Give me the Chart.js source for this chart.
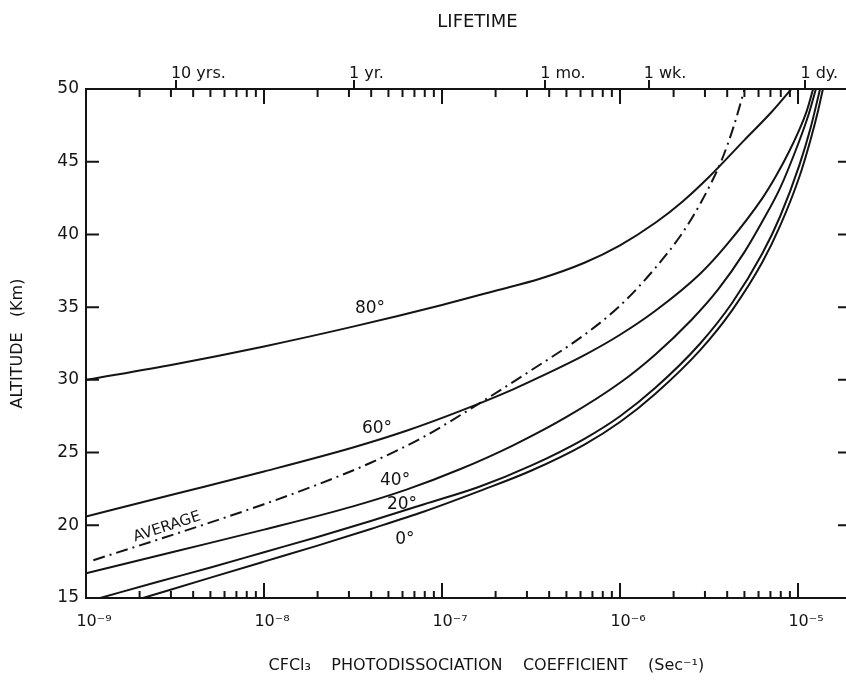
<!DOCTYPE html>
<html>
<head>
<meta charset="utf-8">
<script src="https://cdn.jsdelivr.net/npm/chart.js@4"></script>
<style>
  html, body { margin: 0; padding: 0; background: #fff; }
  #wrap { width: 846px; height: 683px; }
</style>
</head>
<body>
<div id="wrap"><canvas id="c" width="846" height="683"></canvas></div>
<script>
// ---------------- data ----------------
// photodissociation coefficient J (sec^-1) and altitude (km) for each curve
const lat80_J  = [1.0e-9, 3.16e-9, 1.0e-8, 3.16e-8, 1.0e-7, 2.0e-7, 3.55e-7, 6.31e-7, 1.0e-6, 1.58e-6, 2.24e-6, 3.16e-6, 5.01e-6, 7.08e-6, 9.33e-6];
const lat80_km = [30.0, 31.08, 32.3, 33.66, 35.15, 36.13, 36.95, 38.05, 39.25, 40.8, 42.25, 43.95, 46.5, 48.4, 50.1];

const avg_J  = [1.10e-9, 2.51e-9, 5.01e-9, 1.0e-8, 2.0e-8, 3.98e-8, 7.94e-8, 1.58e-7, 3.16e-7, 6.31e-7, 1.0e-6, 1.58e-6, 2.24e-6, 2.82e-6, 3.72e-6, 4.37e-6, 5.01e-6];
const avg_km = [17.6, 19.0, 20.2, 21.45, 22.8, 24.3, 26.1, 28.3, 30.65, 33.1, 35.1, 37.7, 40.1, 42.1, 45.1, 47.5, 50.0];

const lat60_J  = [1.0e-9, 3.16e-9, 1.0e-8, 3.16e-8, 6.31e-8, 1.26e-7, 2.51e-7, 3.55e-7, 6.31e-7, 1.0e-6, 1.58e-6, 2.82e-6, 3.98e-6, 6.31e-6, 7.59e-6, 8.91e-6, 1.0e-5, 1.12e-5, 1.216e-5];
const lat60_km = [20.6, 22.15, 23.7, 25.35, 26.5, 27.85, 29.35, 30.2, 31.7, 33.1, 34.75, 37.3, 39.3, 42.5, 44.1, 45.7, 47.0, 48.5, 50.0];

const lat40_J  = [1.0e-9, 3.16e-9, 1.0e-8, 3.16e-8, 6.31e-8, 1.26e-7, 2.51e-7, 5.01e-7, 1.0e-6, 1.58e-6, 2.51e-6, 3.55e-6, 5.01e-6, 6.31e-6, 7.94e-6, 1.0e-5, 1.15e-5, 1.28e-5];
const lat40_km = [16.7, 18.2, 19.7, 21.3, 22.45, 23.85, 25.5, 27.45, 29.8, 31.75, 34.1, 36.2, 38.8, 40.9, 43.2, 46.2, 48.3, 50.3];

const lat20_J  = [1.20e-9, 2.51e-9, 5.01e-9, 1.0e-8, 2.0e-8, 3.98e-8, 7.94e-8, 1.62e-7, 3.16e-7, 6.31e-7, 1.0e-6, 1.58e-6, 2.82e-6, 4.27e-6, 6.31e-6, 7.94e-6, 1.02e-5, 1.175e-5, 1.33e-5];
const lat20_km = [15.0, 16.1, 17.1, 18.15, 19.2, 20.3, 21.45, 22.65, 24.1, 25.95, 27.5, 29.45, 32.5, 35.3, 38.7, 41.25, 44.8, 47.3, 50.0];

const lat0_J  = [2.09e-9, 5.01e-9, 1.0e-8, 2.0e-8, 3.98e-8, 7.94e-8, 1.62e-7, 3.16e-7, 6.31e-7, 1.0e-6, 1.58e-6, 2.82e-6, 4.27e-6, 6.31e-6, 7.94e-6, 1.02e-5, 1.175e-5, 1.29e-5, 1.38e-5];
const lat0_km = [15.0, 16.4, 17.5, 18.6, 19.75, 20.95, 22.35, 23.75, 25.55, 27.1, 29.05, 32.05, 34.8, 38.1, 40.6, 44.0, 46.5, 48.4, 50.0];

// axes
const X_MIN = 1e-9, X_MAX = 1.86e-5;
const Y_MIN = 15, Y_MAX = 50;
const xDecades = [1e-9, 1e-8, 1e-7, 1e-6, 1e-5];
const xDecadeLabels = ['10\u207B\u2079', '10\u207B\u2078', '10\u207B\u2077', '10\u207B\u2076', '10\u207B\u2075'];
const xMinorSteps = [2, 3, 4, 5, 6, 7, 8, 9];
const yTickValues = [15, 20, 25, 30, 35, 40, 45, 50];
const yInnerTicks = [20, 25, 30, 35, 40, 45];
// lifetime (top) axis: J = 1 / lifetime
const lifeJ = [3.2e-9, 3.2e-8, 3.8e-7, 1.45e-6, 1.1e-5];
const lifeLabels = ['10 yrs.', '1 yr.', '1 mo.', '1 wk.', '1 dy.'];

// curve annotations (text, J, km, angle in degrees)
const noteText  = ['80\u00B0', '60\u00B0', '40\u00B0', '20\u00B0', '0\u00B0', 'AVERAGE'];
const noteJ     = [3.94e-8, 4.31e-8, 5.45e-8, 5.96e-8, 6.19e-8, 2.85e-9];
const noteKm    = [34.93, 26.68, 23.04, 21.45, 18.99, 19.88];
const noteAngle = [0, 0, 0, 0, 0, -18];

// ---------------- chart ----------------
const INK = '#141414';
const FONT = 'DejaVu Sans';

function pts(xs, ys) { return xs.map((v, i) => ({ x: v, y: ys[i] })); }
function solid(label, xs, ys) {
  return { label, data: pts(xs, ys), borderColor: INK, borderWidth: 2, pointRadius: 0,
           fill: false, cubicInterpolationMode: 'monotone' };
}

const datasets = [
  solid('80°', lat80_J, lat80_km),
  Object.assign(solid('AVERAGE', avg_J, avg_km), { borderDash: [12, 5, 2, 5] }),
  solid('60°', lat60_J, lat60_km),
  solid('40°', lat40_J, lat40_km),
  solid('20°', lat20_J, lat20_km),
  solid('0°', lat0_J, lat0_km)
];

const frameTicks = {
  id: 'frameTicks',
  afterDraw(chart) {
    const { ctx, chartArea: a, scales: { x, y } } = chart;
    ctx.save();
    ctx.strokeStyle = INK;
    ctx.lineWidth = 2;
    ctx.beginPath();
    yInnerTicks.forEach(v => {
      const py = y.getPixelForValue(v);
      ctx.moveTo(a.left, py); ctx.lineTo(a.left + 13, py);
      ctx.moveTo(a.right, py); ctx.lineTo(a.right - 8, py);
    });
    xDecades.forEach(d => {
      [1].concat(xMinorSteps).forEach(m => {
        const v = d * m;
        if (v <= X_MIN * 1.0001 || v > X_MAX) return;
        const px = x.getPixelForValue(v);
        const len = m === 1 ? 15 : 7;
        ctx.moveTo(px, a.bottom); ctx.lineTo(px, a.bottom - len);
        ctx.moveTo(px, a.top); ctx.lineTo(px, a.top + len + (m === 1 ? 0 : 1));
      });
    });
    ctx.stroke();
    ctx.restore();
  }
};

const curveNotes = {
  id: 'curveNotes',
  afterDatasetsDraw(chart) {
    const { ctx, scales: { x, y } } = chart;
    ctx.save();
    ctx.fillStyle = INK;
    ctx.textAlign = 'center';
    ctx.textBaseline = 'middle';
    noteText.forEach((t, i) => {
      const px = x.getPixelForValue(noteJ[i]);
      const py = y.getPixelForValue(noteKm[i]);
      ctx.save();
      ctx.translate(px, py);
      ctx.rotate(noteAngle[i] * Math.PI / 180);
      ctx.font = (t === 'AVERAGE' ? '15px ' : '17px ') + FONT;
      ctx.fillText(t, 0, 0);
      ctx.restore();
    });
    ctx.restore();
  }
};

new Chart(document.getElementById('c'), {
  type: 'line',
  data: { datasets },
  options: {
    responsive: false,
    animation: false,
    layout: { padding: 0 },
    plugins: { legend: { display: false }, tooltip: { enabled: false } },
    scales: {
      x: {
        type: 'logarithmic', position: 'bottom', min: X_MIN, max: X_MAX,
        afterBuildTicks: s => { s.ticks = xDecades.map(v => ({ value: v })); },
        afterFit: s => { s.height = 85; s.paddingLeft = 0; s.paddingRight = 0; },
        grid: { display: false, drawTicks: false },
        border: { display: true, color: INK, width: 2 },
        ticks: {
          autoSkip: false, maxRotation: 0, padding: 14, labelOffset: 8,
          color: INK, font: { family: FONT, size: 16 },
          callback: (v, i) => xDecadeLabels[i]
        },
        title: {
          display: true,
          text: '        CFCl\u2083    PHOTODISSOCIATION    COEFFICIENT    (Sec\u207B\u00B9)',
          color: INK, font: { family: FONT, size: 16 }, padding: { top: 0, bottom: 8 }
        }
      },
      x2: {
        type: 'logarithmic', position: 'top', min: X_MIN, max: X_MAX,
        afterBuildTicks: s => { s.ticks = lifeJ.map(v => ({ value: v })); },
        afterFit: s => { s.height = 89; s.paddingLeft = 0; s.paddingRight = 0; },
        grid: { display: true, drawOnChartArea: false, drawTicks: true, tickLength: 9, color: INK, lineWidth: 2 },
        border: { display: true, color: INK, width: 2 },
        ticks: {
          autoSkip: false, maxRotation: 0, align: 'start', labelOffset: -5, padding: -3,
          color: INK, font: { family: FONT, size: 16 },
          callback: (v, i) => lifeLabels[i]
        },
        title: {
          display: true, text: '    LIFETIME', color: INK,
          font: { family: FONT, size: 18 }, padding: { top: 12, bottom: 0 }
        }
      },
      y: {
        type: 'linear', position: 'left', min: Y_MIN, max: Y_MAX,
        afterBuildTicks: s => { s.ticks = yTickValues.map(v => ({ value: v })); },
        afterFit: s => { s.width = 86; },
        grid: { display: false, drawTicks: false },
        border: { display: true, color: INK, width: 2 },
        ticks: { padding: 7, color: INK, font: { family: FONT, size: 17 } },
        title: {
          display: true, text: 'ALTITUDE   (Km)', color: INK,
          font: { family: FONT, size: 16 }, padding: { top: 8, bottom: 0 }
        }
      }
    }
  },
  plugins: [frameTicks, curveNotes]
});
</script>
</body>
</html>
